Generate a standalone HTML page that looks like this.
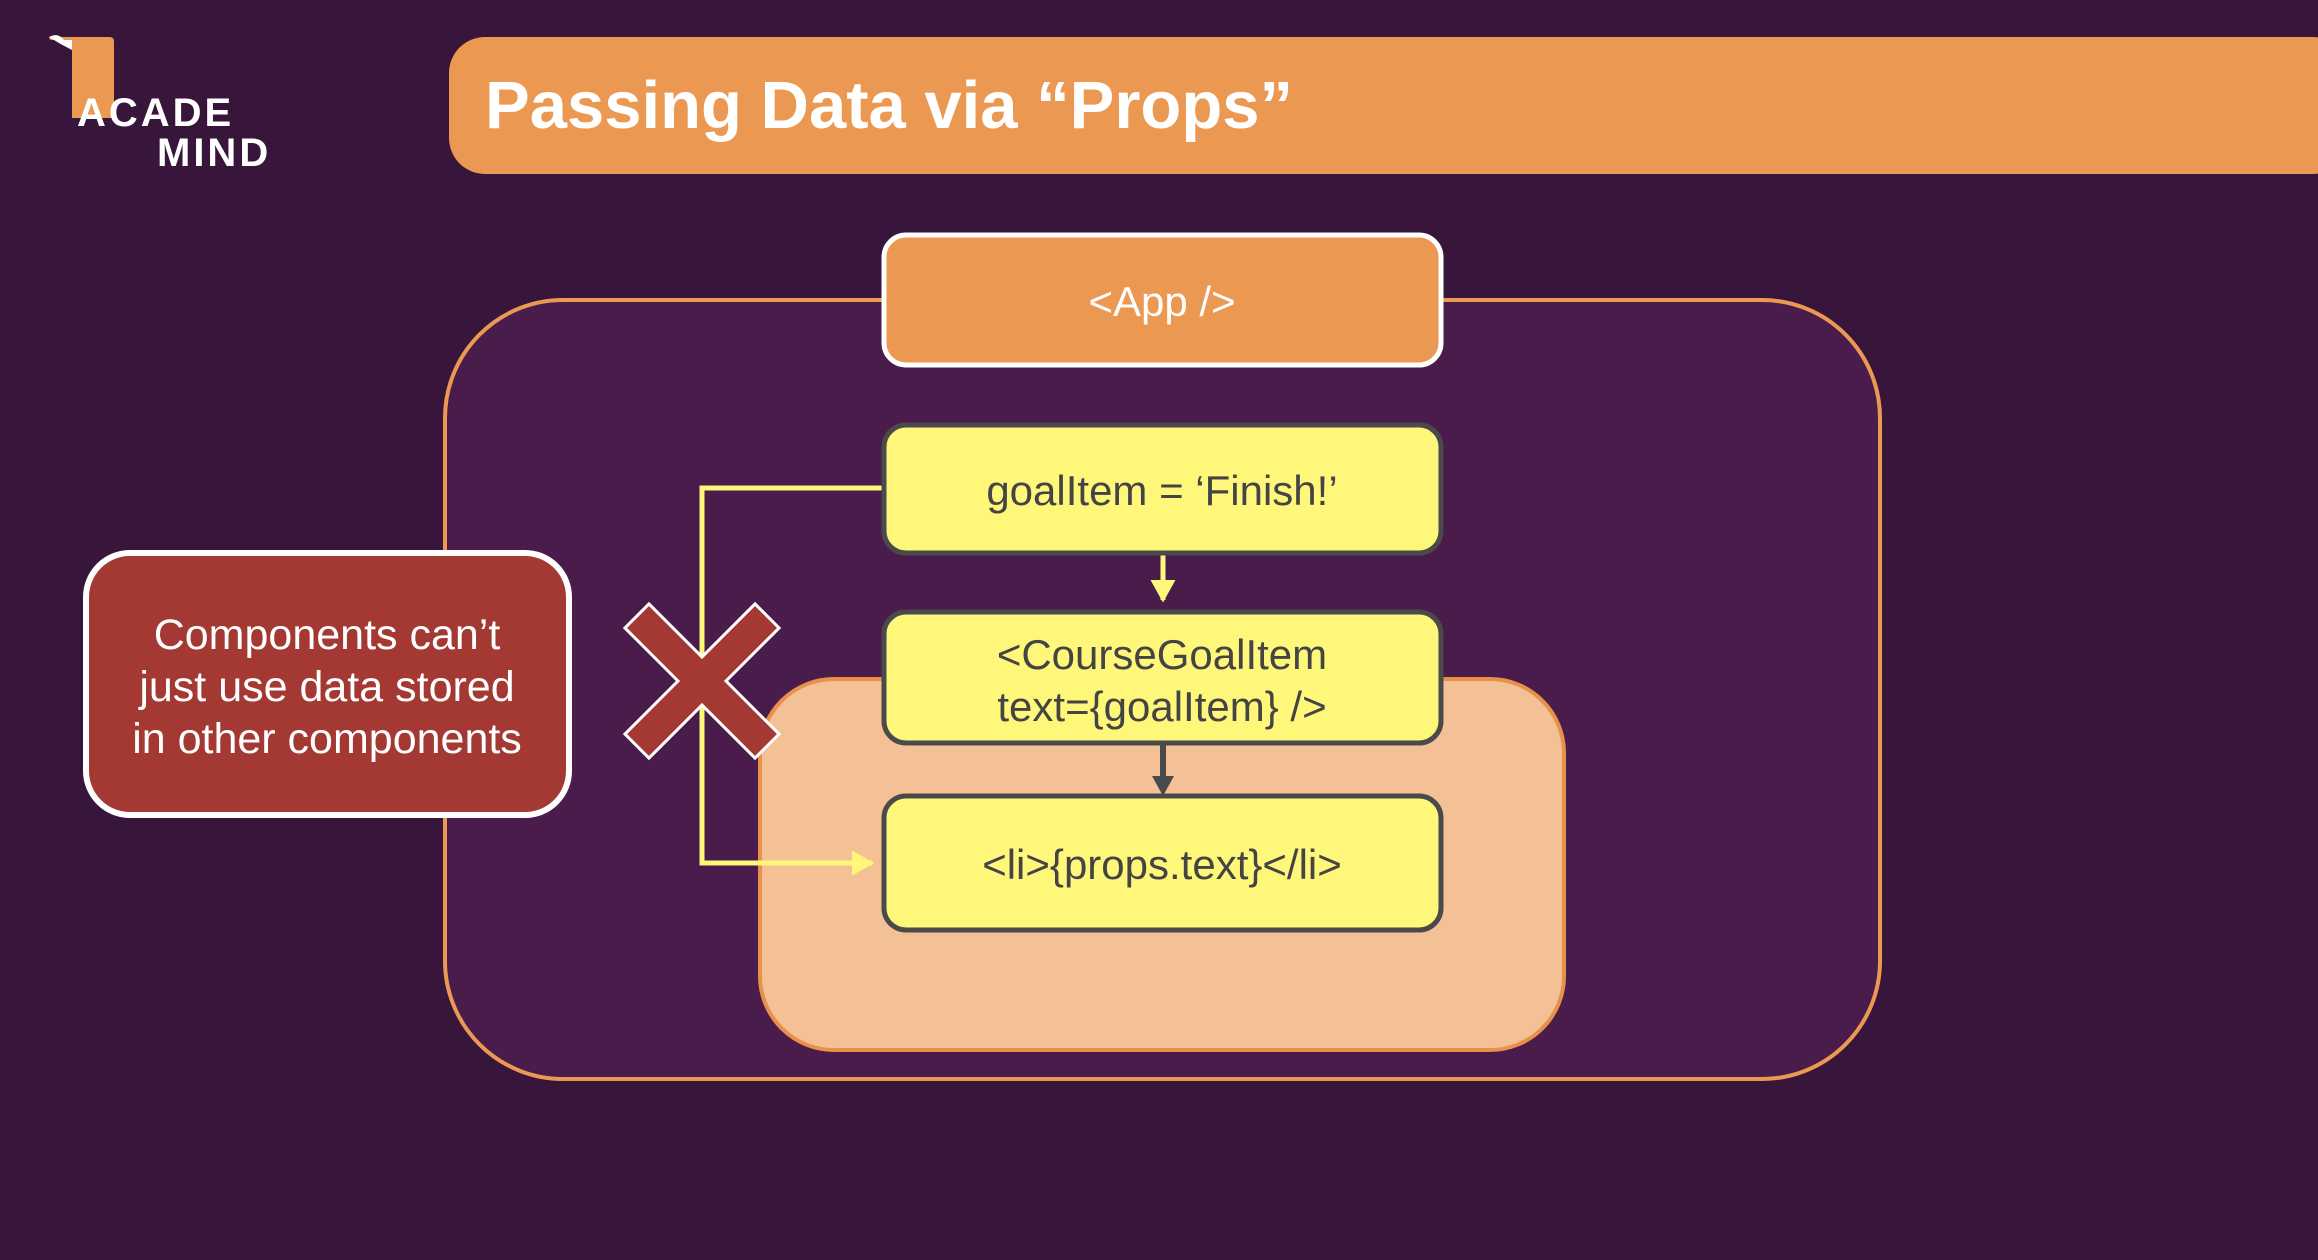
<!DOCTYPE html>
<html><head><meta charset="utf-8"><style>
html,body{margin:0;padding:0;}
body{width:2318px;height:1260px;background:#38153a;position:relative;overflow:hidden;font-family:"Liberation Sans",sans-serif;}
</style></head><body>
<svg width="2318" height="1260" viewBox="0 0 2318 1260" style="position:absolute;left:0;top:0">
<defs>
<marker id="ay" markerWidth="6" markerHeight="6" refX="4" refY="3" orient="auto" markerUnits="strokeWidth"><path d="M0,0.5 L4.5,3 L0,5.5 z" fill="#fff77a"/></marker>
</defs>
<!-- logo -->
<path d="M49,37 L110,37 Q114,37 114,42 L114,118 L72,118 L72,46 Q72,40 64,40 L52,40 Q49,40 49,37 Z" fill="#eb9852"/>
<path d="M49,37 Q58,32 64,40 L72,40 L72,50 Q60,44 49,37 Z" fill="#fff"/>
<text x="77" y="126" font-size="40" font-weight="bold" fill="#fff" letter-spacing="3">ACADE</text>
<text x="157" y="166" font-size="40" font-weight="bold" fill="#fff" letter-spacing="3">MIND</text>
<!-- title -->
<rect x="449" y="37" width="1900" height="137" rx="36" fill="#eb9852"/>
<text x="485" y="128" font-size="67" font-weight="bold" fill="#fff">Passing Data via “Props”</text>
<!-- outer box -->
<rect x="445" y="300" width="1435" height="779" rx="118" fill="#4a1c4c" stroke="#eb9852" stroke-width="4"/>
<!-- inner peach -->
<rect x="760" y="679" width="804" height="371" rx="74" fill="#f3c195" stroke="#e8914a" stroke-width="4"/>
<!-- App -->
<rect x="884" y="235" width="557" height="130" rx="22" fill="#eb9852" stroke="#fff" stroke-width="5"/>
<text x="1162" y="316" font-size="42" fill="#fff" text-anchor="middle">&lt;App /&gt;</text>
<!-- connectors -->
<polyline points="884,488 702,488 702,863 872,863" fill="none" stroke="#fff77a" stroke-width="5" marker-end="url(#ay)"/>
<line x1="1163" y1="554" x2="1163" y2="600" stroke="#fff77a" stroke-width="5" marker-end="url(#ay)"/>
<line x1="1163" y1="744" x2="1163" y2="780" stroke="#4a4a4a" stroke-width="6"/>
<path d="M1152,776 L1174,776 L1163,796 Z" fill="#4a4a4a"/>
<!-- yellow boxes -->
<rect x="884" y="425" width="557" height="128" rx="22" fill="#fff77a" stroke="#4a4a4a" stroke-width="5"/>
<text x="1162" y="505" font-size="42" fill="#444" text-anchor="middle">goalItem = ‘Finish!’</text>
<rect x="884" y="612" width="557" height="131" rx="22" fill="#fff77a" stroke="#4a4a4a" stroke-width="5"/>
<text x="1162" y="669" font-size="42" fill="#444" text-anchor="middle">&lt;CourseGoalItem</text>
<text x="1162" y="721" font-size="42" fill="#444" text-anchor="middle">text={goalItem} /&gt;</text>
<rect x="884" y="796" width="557" height="134" rx="22" fill="#fff77a" stroke="#4a4a4a" stroke-width="5"/>
<text x="1162" y="879" font-size="42" fill="#444" text-anchor="middle">&lt;li&gt;{props.text}&lt;/li&gt;</text>
<!-- red X -->
<g transform="translate(702,681) rotate(45)">
<path d="M-17,-92 L17,-92 L17,-17 L92,-17 L92,17 L17,17 L17,92 L-17,92 L-17,17 L-92,17 L-92,-17 L-17,-17 Z" fill="#a43832" stroke="#fff" stroke-width="3"/>
</g>
<!-- callout -->
<rect x="86" y="553" width="483" height="262" rx="44" fill="#a43832" stroke="#fff" stroke-width="6"/>
<text x="327" y="649" font-size="43" fill="#fff" text-anchor="middle">Components can’t</text>
<text x="327" y="701" font-size="43" fill="#fff" text-anchor="middle">just use data stored</text>
<text x="327" y="753" font-size="43" fill="#fff" text-anchor="middle">in other components</text>
</svg>
</body></html>
